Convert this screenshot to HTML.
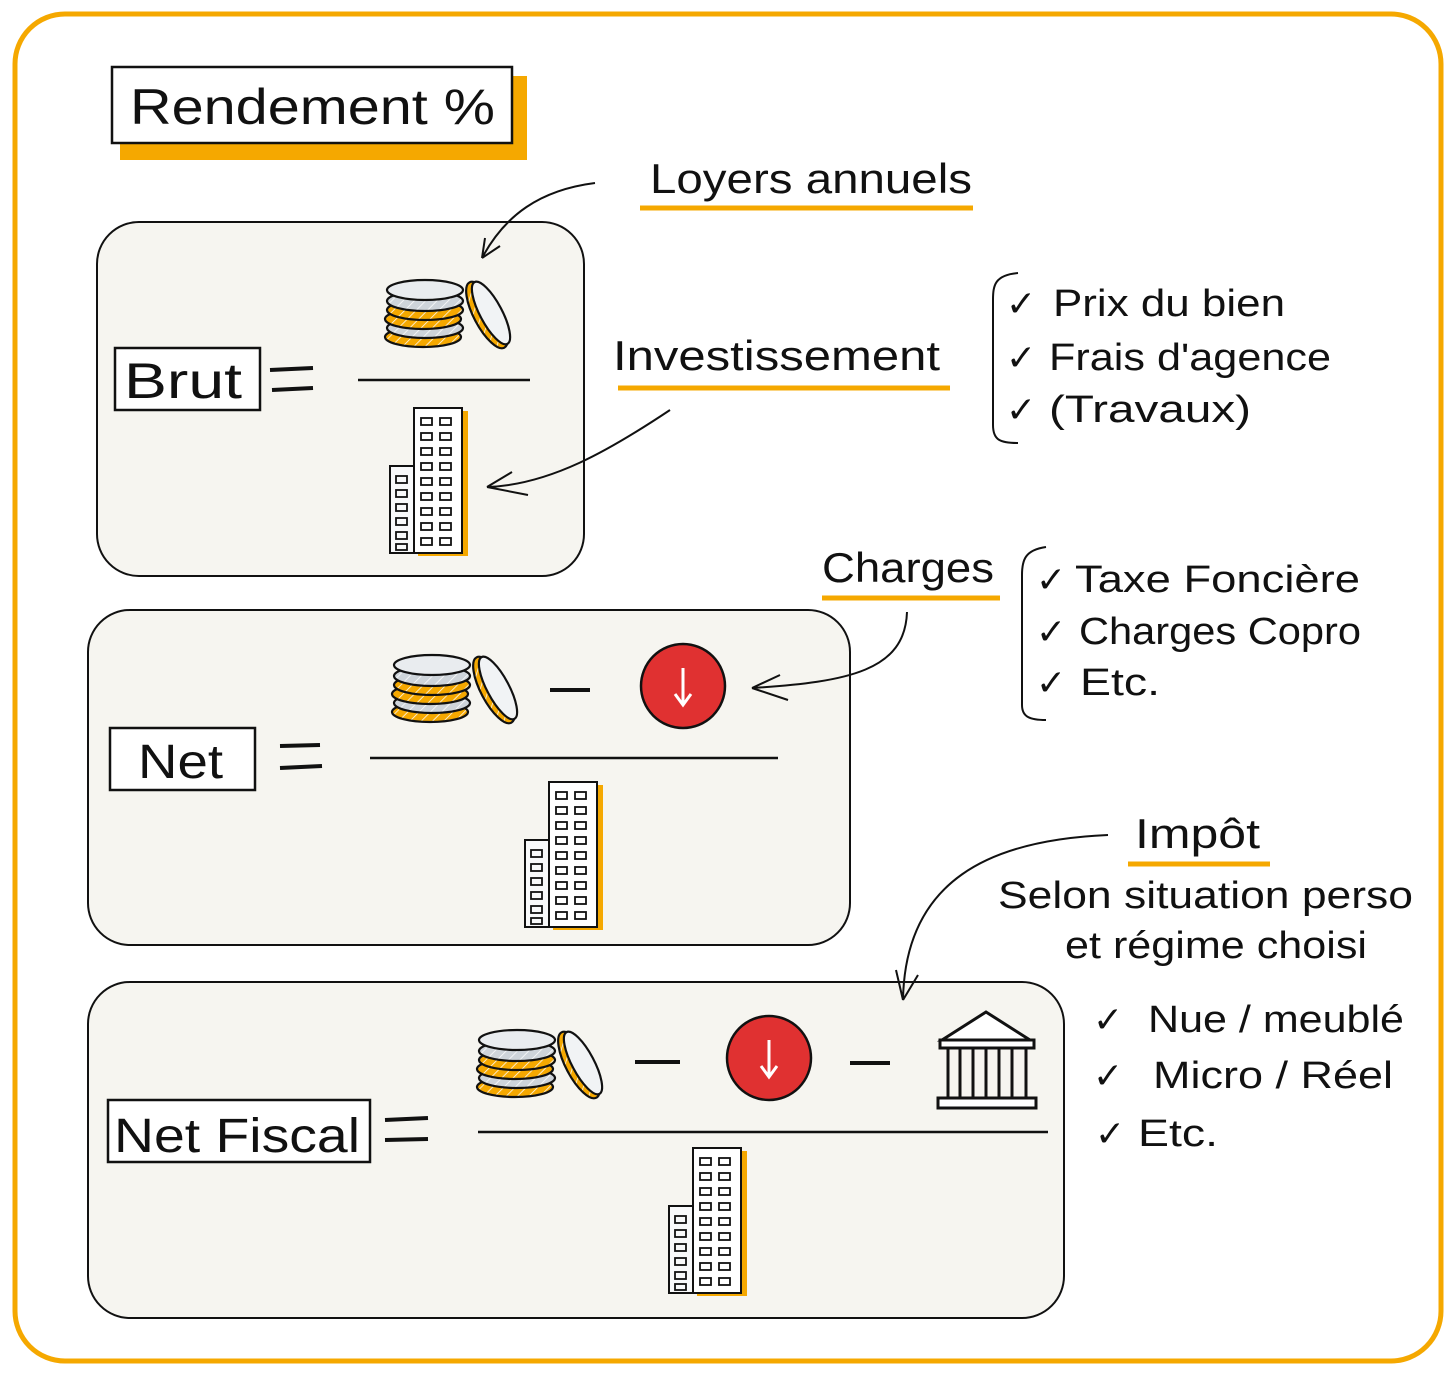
<!DOCTYPE html>
<html><head><meta charset="utf-8"><style>
html,body{margin:0;padding:0;background:#fff}
svg{display:block}
text{font-family:"Liberation Sans","DejaVu Sans",sans-serif;fill:#111}
</style></head><body>
<svg width="1456" height="1376" viewBox="0 0 1456 1376" xmlns="http://www.w3.org/2000/svg">
<defs>
<pattern id="hatch" width="8" height="8" patternUnits="userSpaceOnUse" patternTransform="rotate(45)">
<rect width="8" height="8" fill="#f5a800"/><line x1="0" y1="0" x2="0" y2="8" stroke="#fff" stroke-width="1.5"/></pattern>
<pattern id="hatchg" width="8" height="8" patternUnits="userSpaceOnUse" patternTransform="rotate(45)">
<rect width="8" height="8" fill="#ced4da"/><line x1="0" y1="0" x2="0" y2="8" stroke="#fff" stroke-width="1.5"/></pattern>
<g id="coins" stroke="#111" stroke-width="2.2">
<ellipse cx="40" cy="62" rx="38" ry="10" fill="url(#hatch)"/>
<ellipse cx="42" cy="53" rx="38" ry="10" fill="url(#hatchg)"/>
<ellipse cx="40" cy="44" rx="38" ry="10" fill="url(#hatch)"/>
<ellipse cx="42" cy="35" rx="38" ry="10" fill="url(#hatch)"/>
<ellipse cx="42" cy="26" rx="38" ry="10" fill="url(#hatchg)"/>
<ellipse cx="42" cy="15" rx="38" ry="10" fill="#e9ecef"/>
<ellipse cx="104" cy="40" rx="13" ry="37" transform="rotate(-28 104 40)" fill="url(#hatch)"/>
<ellipse cx="108" cy="38" rx="11" ry="35" transform="rotate(-28 108 38)" fill="#f1f3f5"/>
</g>
<g id="bldg" stroke="#111" stroke-width="2" fill="none">
<rect x="30" y="3" width="50" height="145" fill="#f5a800" stroke="none"/>
<rect x="26" y="0" width="48" height="145" fill="#fff"/>
<rect x="2" y="58" width="24" height="87" fill="#f8f9fa"/>
<g stroke-width="1.8">
<rect x="33" y="10" width="11" height="7"/><rect x="52" y="10" width="11" height="7"/>
<rect x="33" y="25" width="11" height="7"/><rect x="52" y="25" width="11" height="7"/>
<rect x="33" y="40" width="11" height="7"/><rect x="52" y="40" width="11" height="7"/>
<rect x="33" y="55" width="11" height="7"/><rect x="52" y="55" width="11" height="7"/>
<rect x="33" y="70" width="11" height="7"/><rect x="52" y="70" width="11" height="7"/>
<rect x="33" y="85" width="11" height="7"/><rect x="52" y="85" width="11" height="7"/>
<rect x="33" y="100" width="11" height="7"/><rect x="52" y="100" width="11" height="7"/>
<rect x="33" y="115" width="11" height="7"/><rect x="52" y="115" width="11" height="7"/>
<rect x="33" y="130" width="11" height="7"/><rect x="52" y="130" width="11" height="7"/>
<rect x="8" y="68" width="11" height="7"/><rect x="8" y="82" width="11" height="7"/>
<rect x="8" y="96" width="11" height="7"/><rect x="8" y="110" width="11" height="7"/>
<rect x="8" y="124" width="11" height="7"/><rect x="8" y="136" width="11" height="6"/>
</g></g>
<g id="red">
<circle cx="0" cy="0" r="42" fill="#e03131" stroke="#111" stroke-width="2.5"/>
<path d="M0,-18 L0,18 M-8,8 L0,19 L8,8" stroke="#fff" stroke-width="3" fill="none"/>
</g>
</defs>

<rect x="15" y="14" width="1426" height="1347" rx="50" fill="#fff" stroke="#f5a800" stroke-width="5"/>

<!-- title -->
<rect x="120" y="76" width="407" height="84" fill="#f5a800"/>
<rect x="112" y="67" width="400" height="76" fill="#fff" stroke="#111" stroke-width="2.5"/>
<text x="130" y="124" font-size="50" textLength="365" lengthAdjust="spacingAndGlyphs">Rendement %</text>

<!-- boxes -->
<rect x="97" y="222" width="487" height="354" rx="42" fill="#f6f5f0" stroke="#111" stroke-width="2"/>
<rect x="88" y="610" width="762" height="335" rx="42" fill="#f6f5f0" stroke="#111" stroke-width="2"/>
<rect x="88" y="982" width="976" height="336" rx="42" fill="#f6f5f0" stroke="#111" stroke-width="2"/>

<!-- Brut -->
<rect x="115" y="348" width="145" height="62" fill="#fff" stroke="#111" stroke-width="2.5"/>
<text x="124" y="398" font-size="50" textLength="118" lengthAdjust="spacingAndGlyphs">Brut</text>
<path d="M270,370 L313,368 M272,390 L313,388" stroke="#111" stroke-width="4"/>
<line x1="358" y1="380" x2="530" y2="380" stroke="#111" stroke-width="2.5"/>
<use href="#coins" x="383" y="275"/>
<use href="#bldg" x="388" y="408"/>

<!-- Net -->
<rect x="110" y="728" width="145" height="62" fill="#fff" stroke="#111" stroke-width="2.5"/>
<text x="138" y="778" font-size="48" textLength="85" lengthAdjust="spacingAndGlyphs">Net</text>
<path d="M280,746 L320,745 M280,768 L322,766" stroke="#111" stroke-width="4"/>
<line x1="370" y1="758" x2="778" y2="758" stroke="#111" stroke-width="2.5"/>
<use href="#coins" x="390" y="650"/>
<line x1="550" y1="690" x2="590" y2="690" stroke="#111" stroke-width="4"/>
<use href="#red" x="683" y="686"/>
<use href="#bldg" x="523" y="782"/>

<!-- Net Fiscal -->
<rect x="108" y="1100" width="262" height="62" fill="#fff" stroke="#111" stroke-width="2.5"/>
<text x="114" y="1152" font-size="48" textLength="246" lengthAdjust="spacingAndGlyphs">Net Fiscal</text>
<path d="M385,1120 L428,1118 M385,1140 L428,1139" stroke="#111" stroke-width="4"/>
<line x1="478" y1="1132" x2="1048" y2="1132" stroke="#111" stroke-width="2.5"/>
<use href="#coins" x="475" y="1025"/>
<line x1="635" y1="1062" x2="680" y2="1062" stroke="#111" stroke-width="4"/>
<use href="#red" x="769" y="1058"/>
<line x1="850" y1="1063" x2="890" y2="1063" stroke="#111" stroke-width="4"/>
<g stroke="#111" stroke-width="3" fill="#fff">
<path d="M942,1040 L986,1012 L1030,1040 Z"/>
<rect x="940" y="1040" width="94" height="8"/>
<path d="M948,1048 L948,1098 M960,1048 L960,1098 M973,1048 L973,1098 M986,1048 L986,1098 M999,1048 L999,1098 M1012,1048 L1012,1098 M1026,1048 L1026,1098" fill="none"/>
<rect x="938" y="1098" width="98" height="10"/>
</g>
<use href="#bldg" x="667" y="1148"/>

<!-- labels -->
<text x="650" y="193" font-size="42" textLength="322" lengthAdjust="spacingAndGlyphs">Loyers annuels</text>
<line x1="640" y1="208" x2="973" y2="208" stroke="#f5a800" stroke-width="5"/>
<path d="M595,183 C540,190 505,215 482,258 M482,258 L485,238 M482,258 L500,246" stroke="#111" stroke-width="2" fill="none"/>

<text x="613" y="370" font-size="42" textLength="327" lengthAdjust="spacingAndGlyphs">Investissement</text>
<line x1="618" y1="388" x2="950" y2="388" stroke="#f5a800" stroke-width="5"/>
<path d="M670,410 C610,450 550,485 487,487 M487,487 L512,472 M487,487 L528,495" stroke="#111" stroke-width="2" fill="none"/>

<text x="822" y="582" font-size="42" textLength="172" lengthAdjust="spacingAndGlyphs">Charges</text>
<line x1="822" y1="598" x2="1000" y2="598" stroke="#f5a800" stroke-width="5"/>
<path d="M907,612 C905,670 850,682 752,688 M752,688 L780,675 M752,688 L788,700" stroke="#111" stroke-width="2" fill="none"/>

<text x="1135" y="848" font-size="42" textLength="125" lengthAdjust="spacingAndGlyphs">Impôt</text>
<line x1="1128" y1="864" x2="1270" y2="864" stroke="#f5a800" stroke-width="5"/>
<path d="M1108,835 C990,840 905,880 903,1000 M903,1000 L896,970 M903,1000 L918,975" stroke="#111" stroke-width="2" fill="none"/>
<text x="998" y="908" font-size="38" textLength="415" lengthAdjust="spacingAndGlyphs">Selon situation perso</text>
<text x="1065" y="958" font-size="38" textLength="302" lengthAdjust="spacingAndGlyphs">et régime choisi</text>

<!-- bracket lists -->
<path d="M1018,273 C995,275 993,285 993,300 L993,425 C993,440 1000,443 1018,443" stroke="#111" stroke-width="2" fill="none"/>
<text x="1006" y="316" font-size="36">✓</text><text x="1053" y="316" font-size="38" textLength="232" lengthAdjust="spacingAndGlyphs">Prix du bien</text>
<text x="1006" y="370" font-size="36">✓</text><text x="1049" y="370" font-size="38" textLength="282" lengthAdjust="spacingAndGlyphs">Frais d'agence</text>
<text x="1006" y="422" font-size="36">✓</text><text x="1049" y="422" font-size="38" textLength="202" lengthAdjust="spacingAndGlyphs">(Travaux)</text>

<path d="M1046,547 C1025,550 1022,560 1022,575 L1022,705 C1022,717 1030,720 1046,720" stroke="#111" stroke-width="2" fill="none"/>
<text x="1036" y="592" font-size="36">✓</text><text x="1075" y="592" font-size="38" textLength="285" lengthAdjust="spacingAndGlyphs">Taxe Foncière</text>
<text x="1036" y="644" font-size="36">✓</text><text x="1079" y="644" font-size="38" textLength="282" lengthAdjust="spacingAndGlyphs">Charges Copro</text>
<text x="1036" y="695" font-size="36">✓</text><text x="1080" y="695" font-size="38" textLength="80" lengthAdjust="spacingAndGlyphs">Etc.</text>

<text x="1093" y="1032" font-size="36">✓</text><text x="1148" y="1032" font-size="38" textLength="256" lengthAdjust="spacingAndGlyphs">Nue / meublé</text>
<text x="1093" y="1088" font-size="36">✓</text><text x="1153" y="1088" font-size="38" textLength="240" lengthAdjust="spacingAndGlyphs">Micro / Réel</text>
<text x="1095" y="1146" font-size="36">✓</text><text x="1138" y="1146" font-size="38" textLength="80" lengthAdjust="spacingAndGlyphs">Etc.</text>
</svg>
</body></html>
